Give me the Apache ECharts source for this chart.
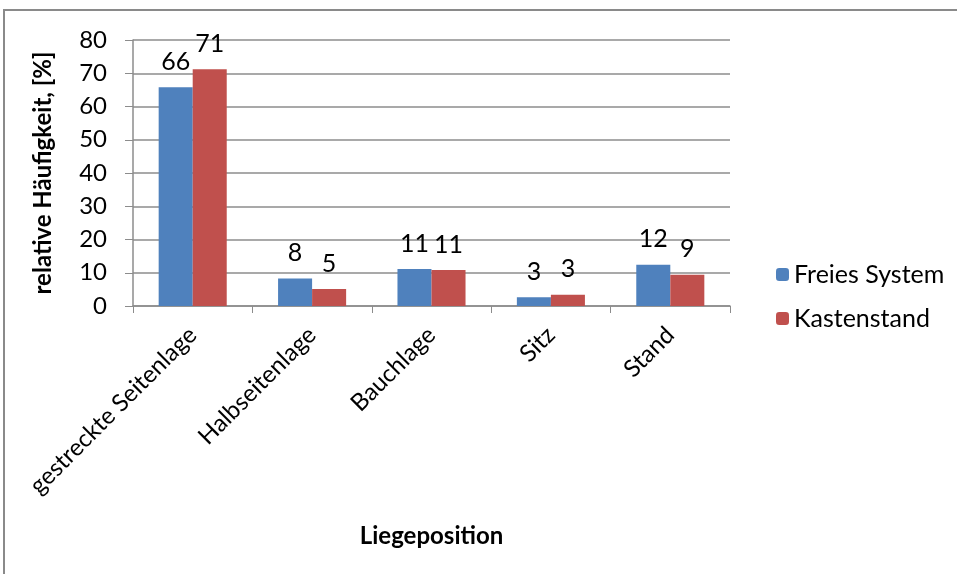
<!DOCTYPE html>
<html>
<head>
<meta charset="utf-8">
<script src="https://cdn.jsdelivr.net/npm/echarts@6/dist/echarts.min.js"></script>
<style>
  html, body { margin: 0; padding: 0; background: #fff; }
  #chart { width: 957px; height: 574px; }
</style>
</head>
<body>
<div id="chart"></div>
<script>
const categories = ['gestreckte Seitenlage', 'Halbseitenlage', 'Bauchlage', 'Sitz', 'Stand']
const freiesSystem = [65.8, 8.3, 11.1, 2.6, 12.4]
const kastenstand = [71.2, 5.1, 10.8, 3.4, 9.4]
const yTicks = [0, 10, 20, 30, 40, 50, 60, 70, 80]

const font = 'Lato, "Open Sans", sans-serif'
const gridColor = '#8c8c8c'

const myChart = echarts.init(document.getElementById('chart'))
myChart.setOption({
  animation: false,
  graphic: [{
    type: 'rect',
    shape: { x: 4, y: 10, width: 1100, height: 700 },
    style: { fill: 'none', stroke: '#8a8a8a', lineWidth: 2 }
  }],
  grid: { left: 133, top: 40, right: 227, bottom: 268 },
  legend: {
    orient: 'vertical',
    left: 771,
    top: 257,
    itemWidth: 13,
    itemHeight: 13,
    itemGap: 19,
    textStyle: { fontFamily: font, fontSize: 25, color: '#000' },
    data: ['Freies System', 'Kastenstand']
  },
  xAxis: {
    type: 'category',
    data: categories,
    name: 'Liegeposition',
    nameLocation: 'middle',
    nameGap: 218,
    nameTextStyle: { fontFamily: font, fontSize: 24, fontWeight: 'bold', color: '#000' },
    axisLine: { lineStyle: { color: gridColor, width: 1.5 } },
    axisTick: { show: true, length: 7, lineStyle: { color: gridColor } },
    axisLabel: { rotate: 45, fontFamily: font, fontSize: 24, color: '#000', margin: 25 }
  },
  yAxis: {
    type: 'value',
    min: 0,
    max: 80,
    interval: 10,
    name: 'relative Häufigkeit, [%]',
    nameLocation: 'middle',
    nameGap: 78,
    nameTextStyle: { fontFamily: font, fontSize: 24, fontWeight: 'bold', color: '#000' },
    axisLine: { show: true, lineStyle: { color: gridColor, width: 1.5 } },
    axisTick: { show: true, length: 8, lineStyle: { color: gridColor } },
    splitLine: { lineStyle: { color: gridColor, width: 1.5 } },
    axisLabel: {
      fontFamily: font, fontSize: 24, color: '#000', margin: 26,
      formatter: v => yTicks.includes(v) ? String(v) : ''
    }
  },
  series: [
    {
      name: 'Freies System',
      type: 'bar',
      data: freiesSystem,
      barGap: '0%',
      barCategoryGap: '43%',
      itemStyle: { color: '#4f81bd' },
      label: {
        show: true, position: 'top', distance: 13,
        fontFamily: font, fontSize: 25, color: '#000',
        formatter: p => Math.round(p.value)
      }
    },
    {
      name: 'Kastenstand',
      type: 'bar',
      data: kastenstand,
      itemStyle: { color: '#c0504d' },
      label: {
        show: true, position: 'top', distance: 13,
        fontFamily: font, fontSize: 25, color: '#000',
        formatter: p => Math.round(p.value)
      }
    }
  ]
})
</script>
</body>
</html>
